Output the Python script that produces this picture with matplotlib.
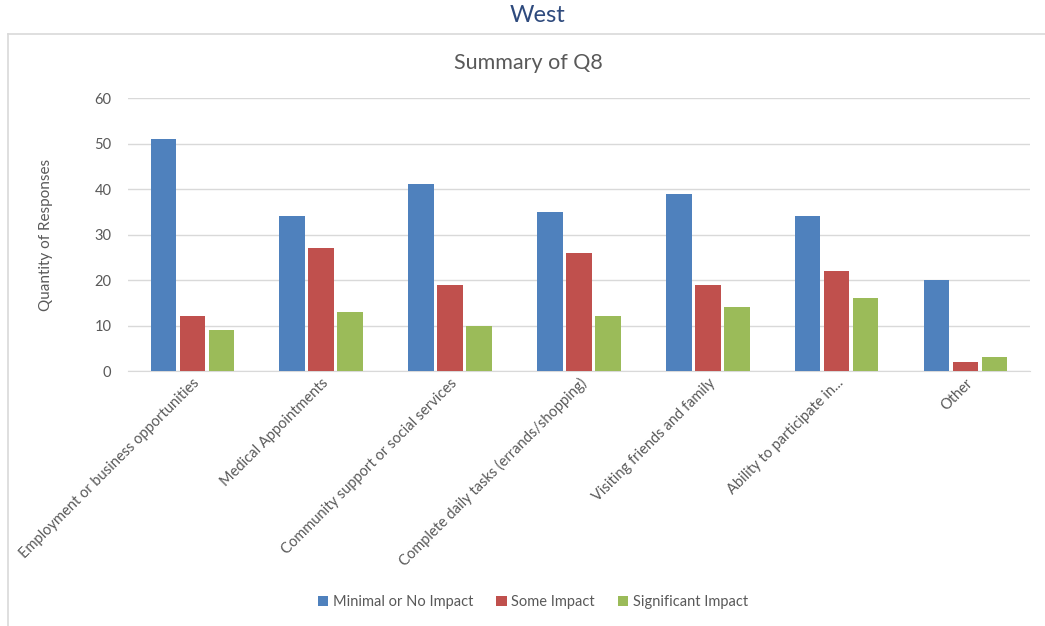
import matplotlib.pyplot as plt
import numpy as np
from matplotlib.lines import Line2D

# # Data

categories = [
    "Employment or business opportunities",
    "Medical Appointments",
    "Community support or social services",
    "Complete daily tasks (errands/shopping)",
    "Visiting friends and family",
    "Ability to participate in...",
    "Other",
]
minimal = [51, 34, 41, 35, 39, 34, 20]
some = [12, 27, 19, 26, 19, 22, 2]
significant = [9, 13, 10, 12, 14, 16, 3]

series_names = ["Minimal or No Impact", "Some Impact", "Significant Impact"]
colors = ["#4F81BD", "#C0504D", "#9BBB59"]
text_gray = "#595959"

plt.rcParams['font.family'] = ['Lato', 'DejaVu Sans']

fig = plt.figure(figsize=(10.45, 6.26), dpi=100)
ax = fig.add_axes([0.1225, 0.4073, 0.863, 0.4361])

x = np.arange(len(categories))
offset = 0.225
width = 0.2
for i, (vals, name, c) in enumerate(zip([minimal, some, significant], series_names, colors)):
    ax.bar(x + (i - 1) * offset, vals, width, color=c, label=name, zorder=3)

ax.set_xlim(-0.5, len(categories) - 0.5)
ax.set_ylim(0, 60)
ax.set_yticks(range(0, 61, 10))
ax.grid(axis='y', color="#D9D9D9", linewidth=1, zorder=0)
ax.tick_params(axis='both', length=0, colors=text_gray, labelsize=10.5)
ax.tick_params(axis='y', pad=12)
ax.set_xticks(x)
ax.set_xticklabels(categories, rotation=45, ha='right', rotation_mode='anchor')
for s in ['top', 'right', 'left']:
    ax.spines[s].set_visible(False)
ax.spines['bottom'].set_color("#D9D9D9")
ax.set_ylabel("Quantity of Responses", color=text_gray, fontsize=11, labelpad=30)

fig.text(0.514, 0.975, "West", ha='center', va='center', fontsize=17, color="#2E4A7D")
fig.text(0.506, 0.899, "Summary of Q8", ha='center', va='center', fontsize=15.5, color=text_gray)

# partial frame around chart area
fig.add_artist(Line2D([8 / 1045, 8 / 1045], [0, 1 - 34 / 626], color="#D9D9D9", lw=1.2))
fig.add_artist(Line2D([8 / 1045, 1], [1 - 34 / 626, 1 - 34 / 626], color="#D9D9D9", lw=1.2))

fig.legend(loc='center', bbox_to_anchor=(0.51, 0.038), ncol=3, frameon=False,
           handlelength=0.7, handleheight=0.7, handletextpad=0.3, columnspacing=1.6,
           fontsize=10.5, labelcolor=text_gray)

fig.savefig("out.png", dpi=100)
